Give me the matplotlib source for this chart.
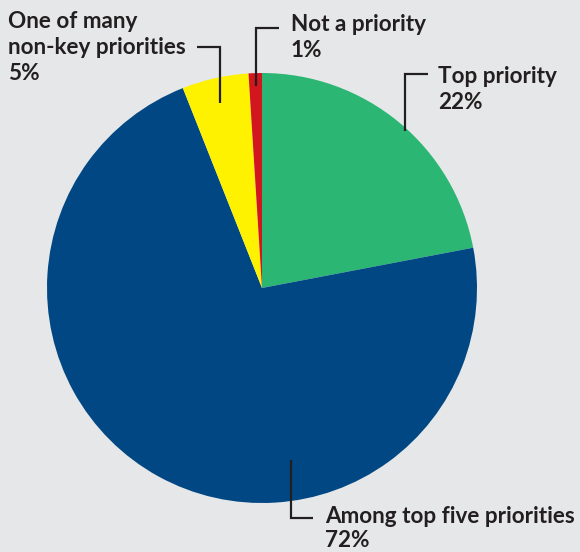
import matplotlib.pyplot as plt

# Priority shares, clockwise from the top
labels = ['Top priority', 'Among top five priorities', 'One of many\nnon-key priorities', 'Not a priority']
shares = [22, 72, 5, 1]
colors = ['#2bb673', '#004784', '#fff200', '#d2161e']

W, H = 580, 552
bg = '#e6e7e8'
ink = '#231f20'

fig = plt.figure(figsize=(W / 100, H / 100), dpi=100, facecolor=bg)
ax = fig.add_axes([0, 0, 1, 1])
ax.set_facecolor(bg)

# pie centre / radius in pixel space (y measured from the top)
cx, cy, r = 262, 288, 215
ax.pie(shares, colors=colors, startangle=90, counterclock=False,
       center=(cx, H - cy), radius=r, frame=True,
       wedgeprops=dict(linewidth=0))
ax.set_xlim(0, W)
ax.set_ylim(0, H)
ax.set_aspect('equal')
ax.axis('off')

font = dict(family='Lato', fontweight='bold', fontsize=16.2, color=ink)
step = 26  # baseline-to-baseline spacing in px

def callout(pts, tx, ty, text, gap=step):
    xs = [p[0] for p in pts]
    ys = [H - p[1] for p in pts]
    ax.plot(xs, ys, color=ink, lw=1.6, solid_capstyle='butt', solid_joinstyle='miter', zorder=5)
    # one text per line, ty = baseline of the first line
    for i, line in enumerate(text.split('\n')):
        ax.text(tx, H - ty - i * gap, line, ha='left', va='baseline', **font)

# leader lines and labels
callout([(405, 131), (405, 74), (428, 74)], 438, 83, f'{labels[0]}\n{shares[0]}%')
callout([(291, 460), (291, 518), (313, 518)], 325, 523, f'{labels[1]}\n{shares[1]}%', gap=24)
callout([(220, 103), (220, 47), (197, 47)], 8, 28, f'{labels[2]}\n{shares[2]}%')
callout([(256, 86), (256, 28), (279, 28)], 291, 31, f'{labels[3]}\n{shares[3]}%')

fig.savefig('out.png', dpi=100, facecolor=bg)
